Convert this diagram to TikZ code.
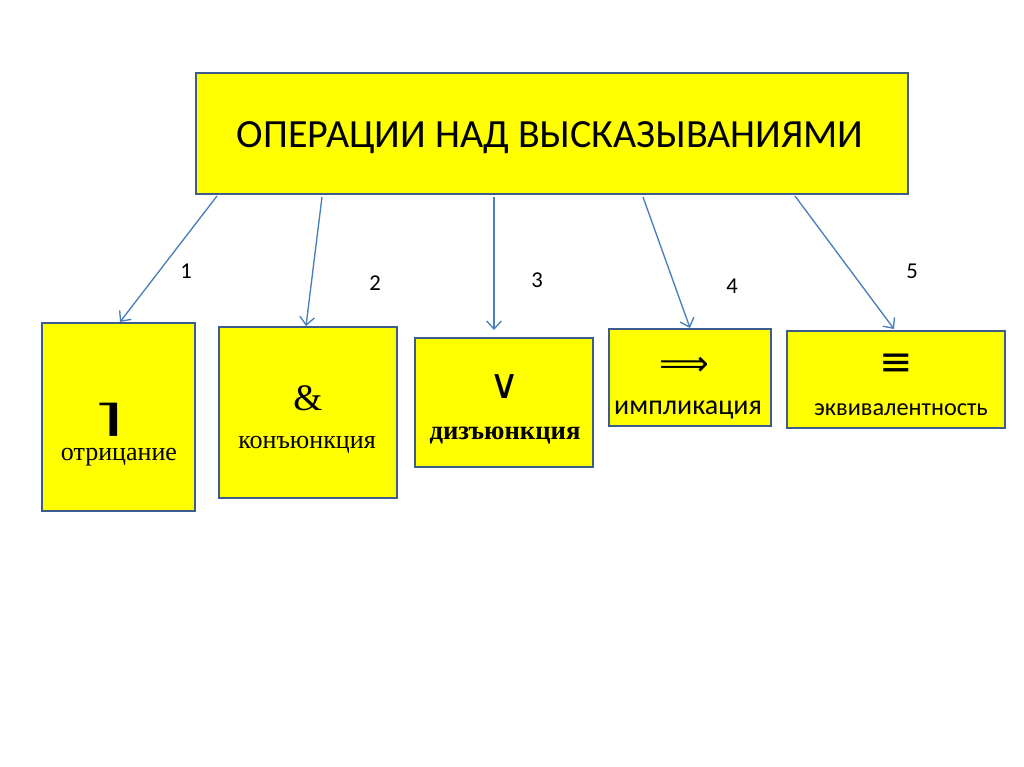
\documentclass[tikz,border=0pt]{standalone}
\usepackage{fontspec}
\setmainfont{Liberation Serif}
\newfontfamily\carfont{Carlito}
\newfontfamily\dvsfont{DejaVu Sans}
\usetikzlibrary{arrows.meta}
\definecolor{bordc}{HTML}{3C5C8E}
\definecolor{arrc}{HTML}{4A7EBB}
\definecolor{yel}{HTML}{FFFF00}
\tikzset{
  opbox/.style={draw=bordc, line width=2.2pt, fill=yel},
  conn/.style={draw=arrc, line width=1pt, -{Straight Barb[length=6pt,width=11pt]}},
  num/.style={font=\carfont\fontsize{17}{17}\selectfont, inner sep=0pt},
  lbl/.style={inner sep=0pt, anchor=base}
}
\begin{document}
\begin{tikzpicture}[x=0.75pt,y=-0.75pt]
\useasboundingbox[fill=white] (0,0) rectangle (1024,767);
% boxes
\path[opbox] (196,73) rectangle (908,194);
\path[opbox] (42,323) rectangle (195,511);
\path[opbox] (219,327) rectangle (397,498);
\path[opbox] (415,338) rectangle (593,467);
\path[opbox] (609,329) rectangle (771,426);
\path[opbox] (787,331) rectangle (1005,428);
% title
\node[lbl] (top) at (550,147) {\carfont\fontsize{30}{30}\selectfont ОПЕРАЦИИ НАД ВЫСКАЗЫВАНИЯМИ};
% connectors
\coordinate (t1) at (217,196);
\coordinate (t2) at (322,197);
\coordinate (t3) at (494,197);
\coordinate (t4) at (643,197);
\coordinate (t5) at (795,196);
\coordinate (b1) at (120,322);
\coordinate (b2) at (306,326);
\coordinate (b3) at (494,330);
\coordinate (b4) at (690,328);
\coordinate (b5) at (894,329);
\draw[conn] (t1) -- (b1);
\draw[conn] (t2) -- (b2);
\draw[conn] (t3) -- (b3);
\draw[conn] (t4) -- (b4);
\draw[conn] (t5) -- (b5);
\node[num] (n1) at (186,271) {1};
\node[num] (n2) at (375,283) {2};
\node[num] (n3) at (537,280) {3};
\node[num] (n4) at (732,286) {4};
\node[num] (n5) at (912,271) {5};
% box texts
\node[inner sep=0pt] (s1) at (108,420) {\dvsfont\fontsize{28}{28}\selectfont\scalebox{2.3}[1]{⌉}};
\node[lbl] (l1) at (119,460) {\fontsize{19.5}{19.5}\selectfont отрицание};
\node[lbl] (s2) at (308,410) {\fontsize{28}{28}\selectfont \&};
\node[lbl] (l2) at (307,448) {\fontsize{19.5}{19.5}\selectfont конъюнкция};
\node[inner sep=0pt] (s3) at (505,387) {\dvsfont\fontsize{31}{31}\selectfont ∨};
\node[lbl] (l3) at (505,439) {\bfseries\fontsize{20}{20}\selectfont дизъюнкция};
\node[inner sep=0pt] (s4) at (684,366) {\dvsfont\fontsize{26}{26}\selectfont ⟹};
\node[lbl] (l4) at (688,414) {\carfont\fontsize{21}{21}\selectfont импликация};
\node[inner sep=0pt] (s5) at (896,365) {\dvsfont\fontsize{30}{30}\selectfont ≡};
\node[lbl] (l5) at (901,415) {\carfont\fontsize{18.2}{18.2}\selectfont эквивалентность};
\end{tikzpicture}
\end{document}
